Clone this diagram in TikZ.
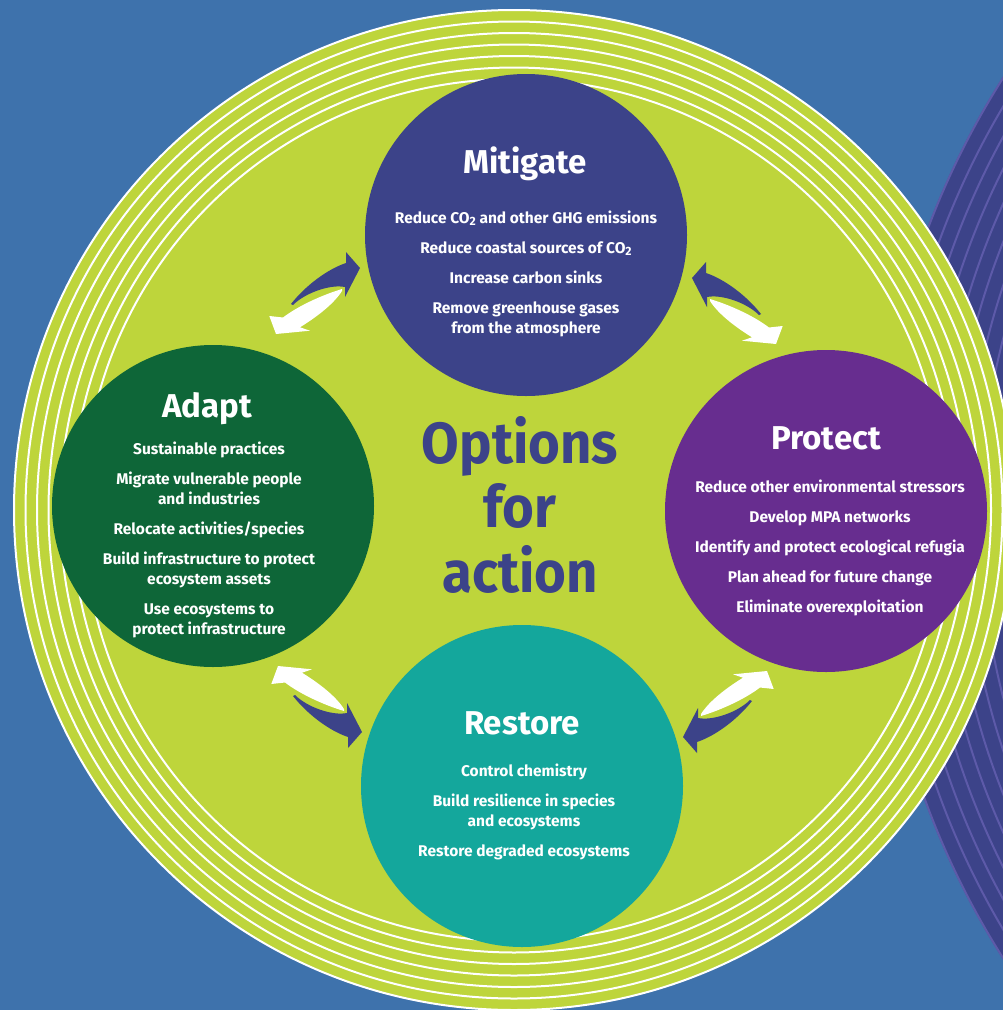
\documentclass[tikz,border=0pt]{standalone}
\usepackage{fontspec}
\setmainfont{Fira Sans}
\newfontfamily\titlefont{Fira Sans}[FakeStretch=0.94]
\usetikzlibrary{positioning}

\definecolor{seablue}{HTML}{3E72AC}
\definecolor{ringgreen}{HTML}{BED53B}
\definecolor{navy}{HTML}{3C4389}
\definecolor{navyline}{HTML}{5D5AA9}
\definecolor{adaptgreen}{HTML}{0E6638}
\definecolor{protectpurple}{HTML}{672D8F}
\definecolor{restoreteal}{HTML}{14A79C}

\newcommand{\cotwo}{CO\raisebox{-2.5pt}{\fontsize{12}{12}\selectfont 2}}

\tikzset{
  bubble/.style={circle, minimum size=322pt, inner sep=0pt},
  headtext/.style={text=white, font=\fontsize{33}{33}\selectfont\bfseries, anchor=base, inner sep=0pt},
  % anchor=base of a multi-line node sits on its last line
  bodytext/.style={text=white, font=\fontsize{15.5}{20}\selectfont\bfseries, align=center, anchor=base, inner sep=0pt},
  titletext/.style={text=navy, font=\titlefont\bfseries\fontsize{58}{64.5}\selectfont, align=center, anchor=base, inner sep=0pt},
  pics/arrowpair/.style={code={
    \fill[navy] (-24,4) .. controls (-9,-15) and (13,-31) .. (31,-37) -- (31,-48) -- (45,-32) -- (30,-3) -- (30,-13) .. controls (15,-16) and (-10,-7) .. (-22,5) -- cycle;
    \fill[white] (27,-11) .. controls (7,-5) and (-17,6) .. (-32,17.5) -- (-45.7,16) -- (-39,34) -- (-5,30.7) -- (-15,27.3) .. controls (0,18) and (18,5) .. (27,-9) -- cycle;
  }},
}

\begin{document}
\begin{tikzpicture}[x=1pt, y=-1pt]
  \useasboundingbox (0,0) rectangle (1003,1010);
  \clip (0,0) rectangle (1003,1010);
  \fill[seablue] (0,0) rectangle (1003,1010);

  % far disc on the right
  \fill[navy] (1697.5,518) circle (822.7pt);
  \foreach \r in {822,807,...,680}
    \draw[navyline, line width=2pt] (1697.5,518) circle (\r pt);

  % green ring
  \fill[ringgreen] (514,510) circle (500pt);
  \foreach \r in {500,488.5,...,430}
    \draw[white, line width=2pt] (514,510) circle (\r pt);

  % the four discs
  \node[bubble, fill=navy] (mitigate) at (526,235) {};
  \node[bubble, fill=adaptgreen] (adapt) at (213,506) {};
  \node[bubble, fill=protectpurple] (protect) at (826,511) {};
  \node[bubble, fill=restoreteal] (restore) at (522,786) {};

  % arrows between the discs
  \pic (adapttomitigate) at (315,300) {arrowpair};
  \pic[xscale=-1] (protecttomitigate) at (737,310) {arrowpair};
  \pic[yscale=-1] (adapttorestore) at (317,700) {arrowpair};
  \pic[rotate=180] (protecttorestore) at (728,705) {arrowpair};

  % headings
  \node[headtext] (mitigatehead) at (525,173) {Mitigate};
  \node[headtext] (adapthead) at (207,417) {Adapt};
  \node[headtext] (protecthead) at (826,449) {Protect};
  \node[headtext] (restorehead) at (522,734) {Restore};

  % lists
  \node[bodytext] (mitigatelist) at (526,333) {Reduce \cotwo{} and other GHG emissions\\[10pt]
    Reduce coastal sources of \cotwo\\[10pt]
    Increase carbon sinks\\[10pt]
    Remove greenhouse gases\\from the atmosphere};
  \node[bodytext] (adaptlist) at (209,634) {Sustainable practices\\[10pt]
    Migrate vulnerable people\\and industries\\[10pt]
    Relocate activities/species\\[10pt]
    Build infrastructure to protect\\ecosystem assets\\[10pt]
    Use ecosystems to\\protect infrastructure};
  \node[bodytext] (protectlist) at (830,612) {Reduce other environmental stressors\\[10pt]
    Develop MPA networks\\[10pt]
    Identify and protect ecological refugia\\[10pt]
    Plan ahead for future change\\[10pt]
    Eliminate overexploitation};
  \node[bodytext] (restorelist) at (524,856) {Control chemistry\\[10pt]
    Build resilience in species\\and ecosystems\\[10pt]
    Restore degraded ecosystems};

  % centre title
  \node[titletext] (options) at (520,592) {Options\\for\\action};
\end{tikzpicture}
\end{document}
